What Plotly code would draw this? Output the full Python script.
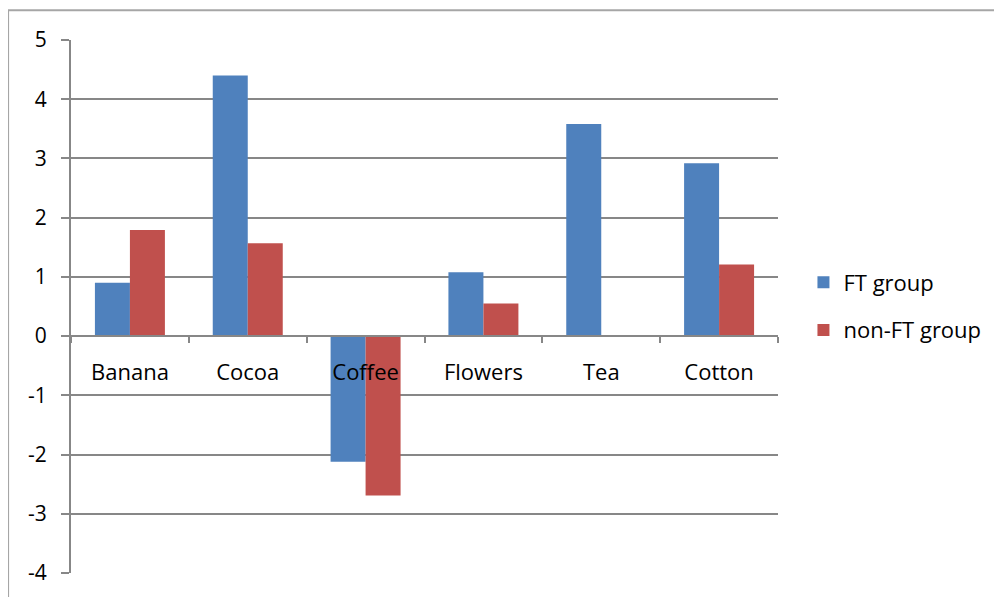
import plotly.graph_objects as go

categories = ["Banana", "Cocoa", "Coffee", "Flowers", "Tea", "Cotton"]
ft_group = [0.9, 4.4, -2.12, 1.08, 3.58, 2.92]
non_ft_group = [1.79, 1.57, -2.69, 0.55, 0, 1.21]
y_ticks = [5, 4, 3, 2, 1, 0, -1, -2, -3, -4]
y_tick_text = ["5", "4", "3", "2", "1", "0", "-1", "-2", "-3", "-4"]

FONT = "Open Sans"
GRID = "#878787"

fig = go.Figure()
fig.add_trace(go.Bar(x=categories, y=ft_group, name="FT group",
                     marker=dict(color="#4F81BD", line=dict(width=0)),
                     legendgroup="a"))
fig.add_trace(go.Bar(x=categories, y=non_ft_group, name="non-FT group",
                     marker=dict(color="#C0504D", line=dict(width=0)),
                     legendgroup="b"))

fig.update_layout(
    width=1002, height=597,
    margin=dict(l=63, r=232, t=32, b=32, autoexpand=False),
    paper_bgcolor="white", plot_bgcolor="white",
    barmode="group", bargap=0.406, bargroupgap=0,
    font=dict(family=FONT, size=22, color="black"),
    legend=dict(x=1.036, y=0.5, xanchor="left", yanchor="middle",
                font=dict(size=22), tracegroupgap=16, traceorder="grouped",
                itemwidth=30),
    showlegend=True,
    xaxis=dict(type="category", anchor="free", position=4/9,
               showline=True, linecolor=GRID, linewidth=2,
               ticks="outside", tickson="boundaries", ticklen=6,
               tickcolor=GRID, tickwidth=2, showgrid=False,
               ticklabelstandoff=16, zeroline=False),
    yaxis=dict(range=[-4, 5], tickvals=y_ticks, ticktext=y_tick_text,
               showgrid=True,
               gridcolor=GRID, gridwidth=2, zeroline=False,
               showline=True, linecolor=GRID, linewidth=2,
               ticks="outside", ticklen=8, tickcolor=GRID, tickwidth=2,
               ticklabelstandoff=10, tickfont=dict(size=21)),
)

# outer chart border (visible top and left edges)
fig.add_shape(type="path", xref="paper", yref="paper",
              path="M -0.089,-0.2 L -0.089,1.056 L 1.5,1.056",
              line=dict(color="#a6a6a6", width=2))

fig.write_html("out.html")
